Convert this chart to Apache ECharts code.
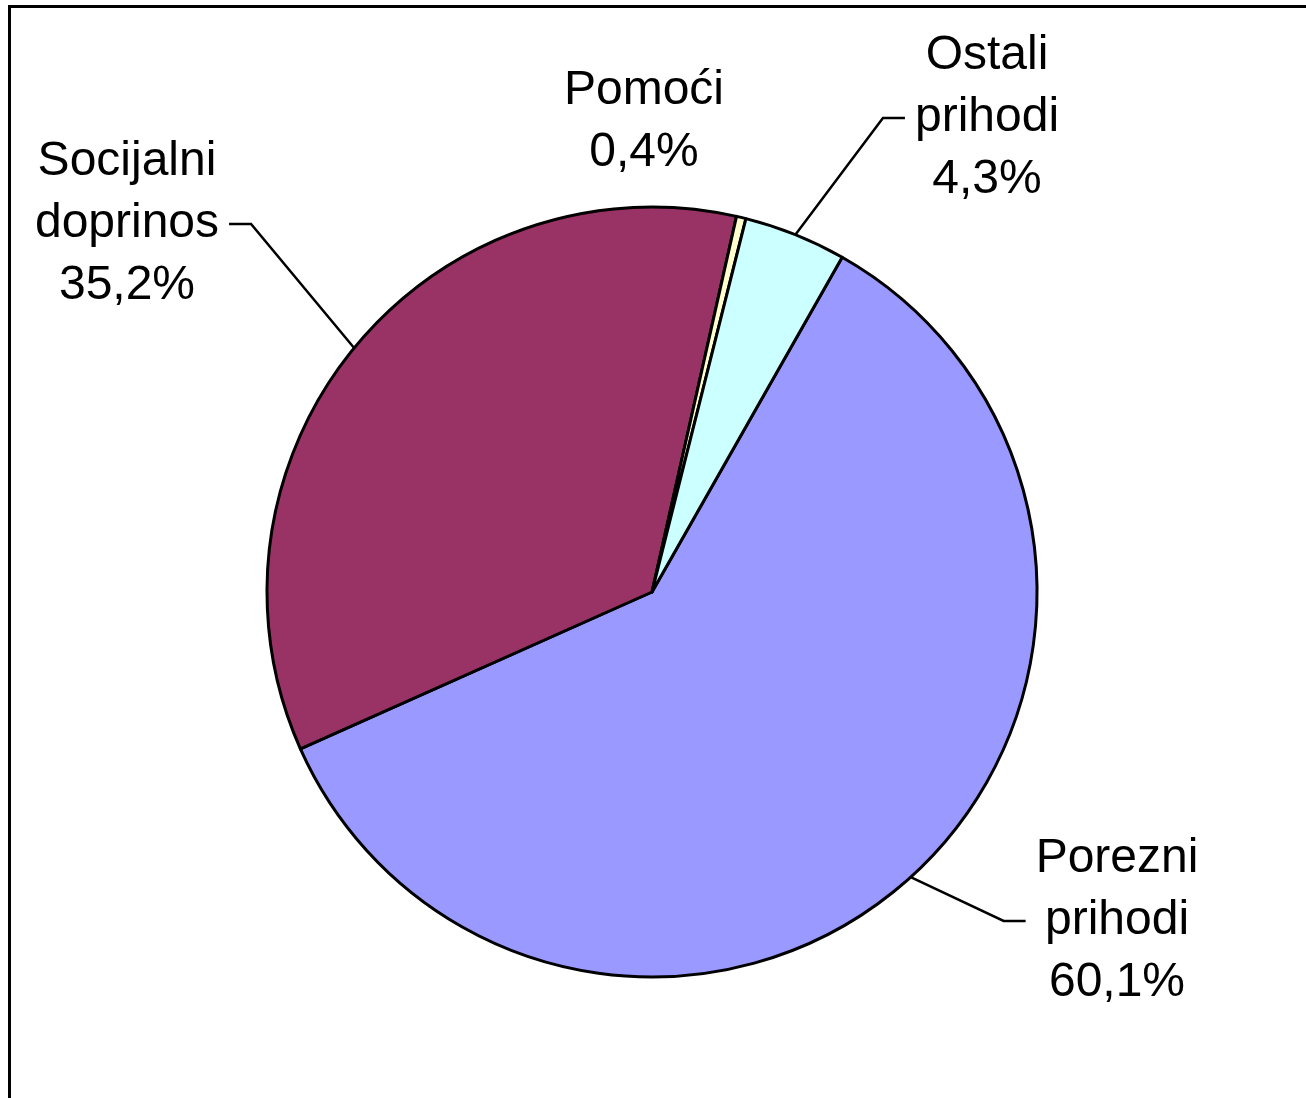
<!DOCTYPE html>
<html>
<head>
<meta charset="utf-8">
<style>
  html, body { margin: 0; padding: 0; background: #fff; }
  #chart { width: 1306px; height: 1098px; }
</style>
<script src="https://cdn.jsdelivr.net/npm/echarts@6/dist/echarts.min.js"></script>
</head>
<body>
<div id="chart"></div>
<script>
// ---- data ----
const categories = ['Porezni prihodi', 'Socijalni doprinos', 'Pomoći', 'Ostali prihodi'];
const shares = [60.1, 35.2, 0.4, 4.3];
const sliceColors = ['#9999FF', '#993366', '#FFFFCC', '#CCFFFF'];
const showLeader = [true, true, false, true];

// ---- label placement (style) ----
const labelCenters = [[1117, 921], [127, 224], [644, 122], [987, 118]];

const chart = echarts.init(document.getElementById('chart'), null, { renderer: 'canvas' });

const seriesData = categories.map(function (name, i) {
  return {
    name: name,
    value: shares[i],
    itemStyle: { color: sliceColors[i] },
    labelLine: { show: showLeader[i] }
  };
});

chart.setOption({
  animation: false,
  backgroundColor: '#ffffff',
  graphic: [{
    type: 'rect',
    shape: { x: 9.5, y: 6.5, width: 2000, height: 2000 },
    style: { fill: 'none', stroke: '#000', lineWidth: 3 },
    silent: true
  }],
  series: [{
    type: 'pie',
    center: [652, 592],
    radius: 385,
    startAngle: 60.4,
    clockwise: true,
    avoidLabelOverlap: false,
    data: seriesData,
    itemStyle: { borderColor: '#000', borderWidth: 3, borderJoin: 'round' },
    label: {
      show: true,
      position: 'outside',
      fontFamily: '"Liberation Sans", Arial, sans-serif',
      fontSize: 48,
      lineHeight: 62,
      color: '#000',
      align: 'center',
      padding: [0, 10],
      backgroundColor: 'rgba(255,255,255,0)',
      formatter: function (p) {
        return p.name.replace(' ', '\n') + '\n' + p.value.toFixed(1).replace('.', ',') + '%';
      }
    },
    labelLine: {
      show: true,
      length: 20,
      length2: 22,
      smooth: false,
      lineStyle: { color: '#000', width: 2.5 }
    },
    labelLayout: function (p) {
      const c = labelCenters[p.dataIndex];
      return { x: c[0], y: c[1], align: 'center', verticalAlign: 'middle' };
    },
    emphasis: { disabled: true }
  }]
});
</script>
</body>
</html>
